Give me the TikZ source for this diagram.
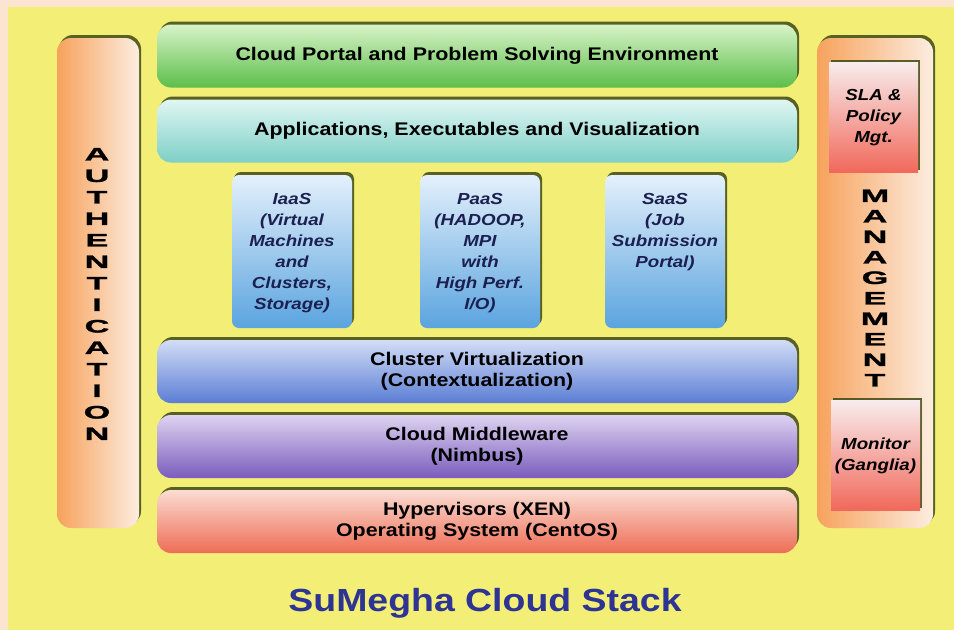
\documentclass[tikz,border=0pt]{standalone}
\usepackage{fontspec}
\setmainfont{Liberation Sans}[FakeStretch=1.17]
\newfontfamily\widefont{Liberation Sans}[FakeStretch=1.9, FakeBold=1.5]
\usetikzlibrary{shadows}
\definecolor{peach}{HTML}{FBE4D0}
\definecolor{yell}{HTML}{F3EE76}
\definecolor{shadowc}{HTML}{3E4814}
\definecolor{grT}{HTML}{D8F3C8}
\definecolor{grB}{HTML}{5CBE4A}
\definecolor{tlT}{HTML}{E0F6F3}
\definecolor{tlB}{HTML}{7DCFC6}
\definecolor{svT}{HTML}{E4F0FB}
\definecolor{svB}{HTML}{5AA4DF}
\definecolor{clT}{HTML}{D2DCF5}
\definecolor{clB}{HTML}{5B7ED4}
\definecolor{mwT}{HTML}{DED3F1}
\definecolor{mwB}{HTML}{7A5CBD}
\definecolor{hyT}{HTML}{FBDCD2}
\definecolor{hyB}{HTML}{EE6D55}
\definecolor{colL}{HTML}{F7A25C}
\definecolor{colM}{HTML}{F9BC86}
\definecolor{colR}{HTML}{FCEDE0}
\definecolor{mgT}{HTML}{F8ECEC}
\definecolor{mgB}{HTML}{F1685A}
\definecolor{svtext}{HTML}{1B2050}
\definecolor{titleblue}{HTML}{2E3494}
\begin{document}
\begin{tikzpicture}[x=1pt,y=-1pt,
  base/.style={inner sep=0pt, outer sep=0pt,
    drop shadow={shadow xshift=2pt, shadow yshift=3pt, fill=shadowc, opacity=0.85}},
  bar/.style={base, rounded corners=14pt, minimum width=640pt, minimum height=63pt,
    align=center, font=\bfseries\fontsize{18.3}{21}\selectfont},
  svc/.style={base, rounded corners=7pt, minimum width=120pt, minimum height=153pt,
    top color=svT, bottom color=svB},
  svctext/.style={anchor=north, align=center, inner sep=0pt, text=svtext,
    font=\bfseries\itshape\fontsize{16}{21}\selectfont},
  col/.style={base, rounded corners=14pt, left color=colL, middle color=colM,
    right color=colR, minimum height=490pt},
  mbox/.style={base, minimum width=89pt, minimum height=110pt, top color=mgT,
    bottom color=mgB, align=center, font=\bfseries\itshape\fontsize{16}{21}\selectfont},
  letters/.style={align=center, inner sep=0pt, font=\widefont\bfseries\fontsize{18}{21.5}\selectfont}
]
\useasboundingbox (0,0) rectangle (954,630);
\fill[peach] (0,0) rectangle (954,630);
\fill[yell] (8,7) rectangle (954,630);

% left authentication column
\node[col, minimum width=82pt] (auth) at (98,283) {};
\node[letters] (authT) at (97,294) {A\\U\\T\\H\\E\\N\\T\\I\\C\\A\\T\\I\\O\\N};

% right management column
\node[col, minimum width=116pt] (mgmt) at (875,283) {};
\node[mbox] (sla) at (873.5,117.5) {SLA \&\\Policy\\Mgt.};
\node[letters, font=\widefont\bfseries\fontsize{18}{20.5}\selectfont] (mgmtT) at (875,288) {M\\A\\N\\A\\G\\E\\M\\E\\N\\T};
\node[mbox] (mon) at (875.5,455.5) {Monitor\\(Ganglia)};

% horizontal layers
\node[bar, top color=grT, bottom color=grB] (portal) at (477,56) {Cloud Portal and Problem Solving Environment};
\node[bar, top color=tlT, bottom color=tlB] (apps) at (477,131) {Applications, Executables and Visualization};

% service boxes
\node[svc] (iaas) at (292,251.5) {};
\node[svc] (paas) at (480,251.5) {};
\node[svc] (saas) at (665,251.5) {};
\node[svctext] (iaasT) at (292,193) {IaaS\\(Virtual\\Machines\\and\\Clusters,\\Storage)};
\node[svctext] (paasT) at (480,193) {PaaS\\(HADOOP,\\MPI\\with\\High Perf.\\I/O)};
\node[svctext] (saasT) at (665,193) {SaaS\\(Job\\Submission\\Portal)};

\node[bar, top color=clT, bottom color=clB] (clus) at (477,371.5) {Cluster Virtualization\\(Contextualization)};
\node[bar, top color=mwT, bottom color=mwB] (mw) at (477,446.5) {Cloud Middleware\\(Nimbus)};
\node[bar, top color=hyT, bottom color=hyB] (hyp) at (477,521.5) {Hypervisors (XEN)\\Operating System (CentOS)};

\node[font=\bfseries\fontsize{32}{36}\selectfont, text=titleblue] (title) at (485,603) {SuMegha Cloud Stack};
\end{tikzpicture}
\end{document}
